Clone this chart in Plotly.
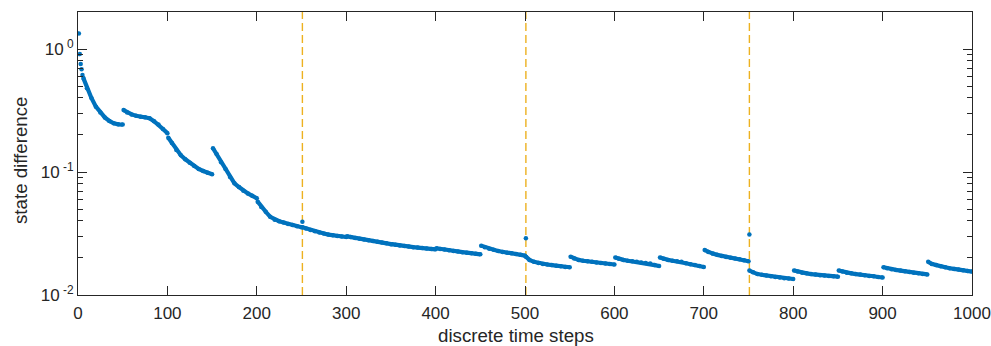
import plotly.graph_objects as go

# Sampled state difference: 20 restart blocks of 50 steps each.
block_starts = [0, 50, 100, 150, 200, 250, 300, 350, 400, 450,
                500, 550, 600, 650, 700, 750, 800, 850, 900, 950]
sample_offsets = [1, 5, 10, 15, 20, 25, 30, 35, 40, 45, 50]

# First steps of the run (isolated points before the curve settles)
head_steps = [1, 2, 3, 4, 5]
head_values = [1.34, 0.91, 0.755, 0.684, 0.615]

# One row per block, one value per sample offset
block_values = [
    [0.58, 0.58, 0.48, 0.40, 0.34, 0.305, 0.278, 0.26, 0.249, 0.244, 0.243],
    [0.319, 0.305, 0.294, 0.287, 0.282, 0.279, 0.274, 0.259, 0.243, 0.224, 0.207],
    [0.19, 0.172, 0.151, 0.137, 0.127, 0.119, 0.112, 0.106, 0.102, 0.0985, 0.0958],
    [0.156, 0.14, 0.12, 0.106, 0.091, 0.081, 0.0755, 0.0705, 0.067, 0.064, 0.0612],
    [0.0574, 0.052, 0.0475, 0.0432, 0.041, 0.0398, 0.0388, 0.0378, 0.037, 0.0362, 0.0355],
    [0.0355, 0.0347, 0.0338, 0.033, 0.0322, 0.0316, 0.031, 0.0306, 0.0302, 0.0299, 0.0296],
    [0.0300, 0.0296, 0.0291, 0.0287, 0.0283, 0.0279, 0.0275, 0.0271, 0.0267, 0.0263, 0.0259],
    [0.0259, 0.0256, 0.0253, 0.025, 0.0248, 0.0245, 0.0243, 0.0241, 0.0239, 0.0237, 0.0235],
    [0.0240, 0.0237, 0.0234, 0.0231, 0.0228, 0.0226, 0.0223, 0.0221, 0.0219, 0.0216, 0.0214],
    [0.0252, 0.0245, 0.0238, 0.0233, 0.0228, 0.0224, 0.0221, 0.0218, 0.0215, 0.0212, 0.0209],
    [0.0205, 0.0193, 0.0186, 0.0182, 0.0179, 0.0177, 0.0175, 0.0173, 0.0171, 0.0169, 0.0168],
    [0.0205, 0.0198, 0.0193, 0.019, 0.0188, 0.0186, 0.0184, 0.0182, 0.018, 0.0179, 0.0177],
    [0.0202, 0.0197, 0.0193, 0.019, 0.0188, 0.0186, 0.0184, 0.0182, 0.018, 0.0175, 0.0172],
    [0.0202, 0.0197, 0.0193, 0.019, 0.0188, 0.0186, 0.0181, 0.0178, 0.0175, 0.0172, 0.0169],
    [0.0232, 0.0224, 0.0217, 0.0212, 0.0208, 0.0204, 0.0201, 0.0198, 0.0195, 0.0192, 0.0188],
    [0.0158, 0.0153, 0.0148, 0.0146, 0.0144, 0.0142, 0.014, 0.0139, 0.0137, 0.0136, 0.0135],
    [0.0158, 0.0155, 0.0152, 0.015, 0.0148, 0.0147, 0.0145, 0.0144, 0.0143, 0.0142, 0.0141],
    [0.0158, 0.0155, 0.0152, 0.015, 0.0148, 0.0147, 0.0145, 0.0143, 0.0142, 0.014, 0.0139],
    [0.0168, 0.0165, 0.0162, 0.016, 0.0158, 0.0156, 0.0154, 0.0152, 0.015, 0.0148, 0.0147],
    [0.0186, 0.0179, 0.0175, 0.0171, 0.0168, 0.0165, 0.0163, 0.0161, 0.0159, 0.0157, 0.0155],
]

# Isolated spikes at the switching instants
switch_steps = [251, 501, 751]
spike_values = [0.0394, 0.0289, 0.0311]

y_tick_vals = [0.01, 0.1, 1]
y_tick_text = ["10<sup> -2</sup>", "10<sup> -1</sup>", "10<sup> 0</sup>"]
x_tick_vals = [0, 100, 200, 300, 400, 500, 600, 700, 800, 900, 1000]
y_minor_vals = [0.02, 0.03, 0.04, 0.05, 0.06, 0.07, 0.08, 0.09,
                0.2, 0.3, 0.4, 0.5, 0.6, 0.7, 0.8, 0.9, 2]

BLUE = "#0072BD"
ORANGE = "#EDB120"
AXIS = "#262626"
FONT = "Liberation Sans, Arial, Helvetica, sans-serif"

# Flatten blocks, breaking the curve between blocks
xs, ys = [], []
for k, (start, row) in enumerate(zip(block_starts, block_values)):
    offsets = sample_offsets
    vals = row
    if k == 0:
        # skip the offset-1 entry; the curve starts after the head points
        offsets = [6] + sample_offsets[2:]
        vals = row[:1] + row[2:]
    xs.extend(start + o for o in offsets)
    ys.extend(vals)
    xs.append(None)
    ys.append(None)

fig = go.Figure()

for s in switch_steps:
    fig.add_vline(x=s, line=dict(color=ORANGE, width=1.4, dash="8px,4px"), layer="below")

fig.add_trace(go.Scatter(
    x=xs, y=ys, mode="lines+markers",
    line=dict(color=BLUE, width=4.2),
    marker=dict(color=BLUE, size=4.5),
    connectgaps=False, showlegend=False,
))
fig.add_trace(go.Scatter(
    x=head_steps, y=head_values, mode="markers",
    marker=dict(color=BLUE, size=4.5), showlegend=False,
))
fig.add_trace(go.Scatter(
    x=switch_steps, y=spike_values, mode="markers",
    marker=dict(color=BLUE, size=4.5), showlegend=False,
))

fig.update_layout(
    width=991, height=346,
    margin=dict(l=78, r=19, t=12, b=51),
    paper_bgcolor="white", plot_bgcolor="white",
    font=dict(family=FONT, size=17, color=AXIS),
)
fig.update_xaxes(
    range=[0, 1000], tickvals=x_tick_vals, automargin=False,
    showline=True, linecolor=AXIS, linewidth=1, mirror="allticks",
    ticks="inside", ticklen=9, tickcolor=AXIS, tickwidth=1,
    ticklabelstandoff=3,
    showgrid=False, zeroline=False,
)
fig.update_yaxes(
    type="log", range=[-2, 0.30103], automargin=False,
    tickvals=y_tick_vals, ticktext=y_tick_text,
    showline=True, linecolor=AXIS, linewidth=1, mirror="allticks",
    ticks="inside", ticklen=9, tickcolor=AXIS, tickwidth=1,
    minor=dict(tickvals=y_minor_vals, ticks="inside", ticklen=5,
               tickcolor=AXIS, tickwidth=1, showgrid=False),
    showgrid=False, zeroline=False,
)

# Axis labels
fig.add_annotation(
    text="discrete time steps", xref="paper", yref="paper",
    x=0.49, y=-0.143, xanchor="center", yanchor="middle",
    showarrow=False, font=dict(size=18.7, color=AXIS),
)
fig.add_annotation(
    text="state difference", xref="paper", yref="paper",
    x=-0.0649, y=0.477, xanchor="center", yanchor="middle",
    textangle=-90, showarrow=False, font=dict(size=18.7, color=AXIS),
)

fig.write_html("out.html")
